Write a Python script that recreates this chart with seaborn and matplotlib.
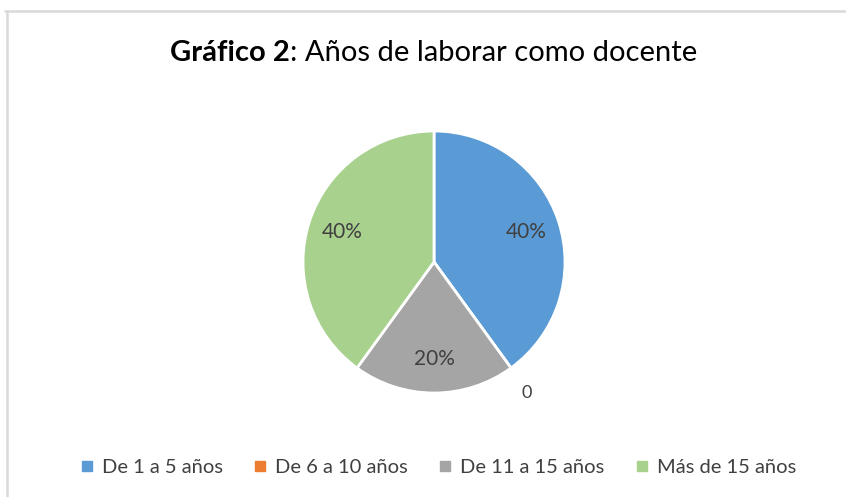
import matplotlib
matplotlib.use("Agg")
import matplotlib.pyplot as plt
from matplotlib.lines import Line2D
import numpy as np
import seaborn as sns

# Data
categories = ["De 1 a 5 años", "De 6 a 10 años", "De 11 a 15 años", "Más de 15 años"]
values = [40, 0, 20, 40]
value_labels = ["40%", "0", "20%", "40%"]
colors = ["#5B9BD5", "#ED7D31", "#A5A5A5", "#A9D18E"]

sns.set_style("white")
plt.rcParams["font.family"] = ["Lato", "DejaVu Sans"]

W, H = 846, 497
fig = plt.figure(figsize=(W / 100, H / 100), dpi=100)

# chart border (top and left edges as in the screenshot)
fig.add_artist(Line2D([5 / W, 1], [1 - 11 / H] * 2, transform=fig.transFigure,
                      color="#D9D9D9", lw=1.8))
fig.add_artist(Line2D([7 / W] * 2, [0, 1 - 11 / H], transform=fig.transFigure,
                      color="#D9D9D9", lw=1.8))

# pie axes: centre ~(434, 262), radius ~131 px
cx, cy, r = 434, 262, 131
ax = fig.add_axes([(cx - r) / W, (H - cy - r) / H, 2 * r / W, 2 * r / H])
wedges, _ = ax.pie(values, colors=colors, startangle=90, counterclock=False,
                   radius=1, wedgeprops=dict(edgecolor="white", linewidth=2))
ax.set_xlim(-1, 1)
ax.set_ylim(-1, 1)
ax.set_aspect("equal")
ax.axis("off")

for w, lab, v in zip(wedges, value_labels, values):
    mid = np.deg2rad((w.theta1 + w.theta2) / 2)
    if v == 0:
        d = 1.17
        ax.text(d * np.cos(mid) + 0.02, d * np.sin(mid) - 0.05, lab, ha="center", va="center",
                fontsize=13, color="#404040")
    else:
        d = 0.74
        ax.text(d * np.cos(mid), d * np.sin(mid), lab, ha="center", va="center",
                fontsize=15, color="#404040")

# title: bold part + regular part, centred together
t1 = fig.text(0, 0, "Gráfico 2", fontsize=21, fontweight="bold", color="black")
t2 = fig.text(0, 0, ": Años de laborar como docente", fontsize=21, color="black")
fig.canvas.draw()
rend = fig.canvas.get_renderer()
w1 = t1.get_window_extent(rend).width
w2 = t2.get_window_extent(rend).width
x0 = 434 - (w1 + w2) / 2
ty = (H - 61) / H
t1.set_position((x0 / W, ty))
t2.set_position(((x0 + w1) / W, ty))

# legend
handles = [Line2D([], [], marker="s", linestyle="", markersize=6.5,
                  markerfacecolor=c, markeredgecolor=c) for c in colors]
fig.legend(handles, categories, loc="center", bbox_to_anchor=(438 / W, 1 - 467 / H),
           ncol=4, frameon=False, fontsize=14.5, handlelength=0.7, handletextpad=0.4,
           columnspacing=1.5, labelcolor="#404040")

fig.savefig("out.png", dpi=100)
